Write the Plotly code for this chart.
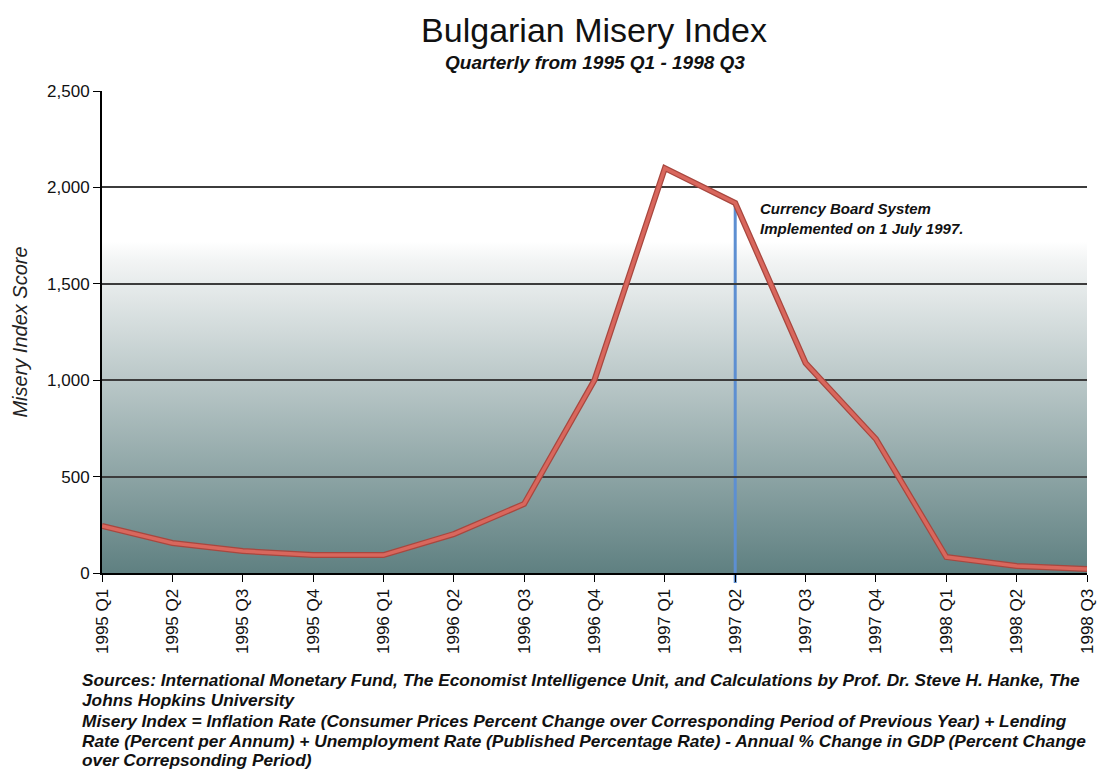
import base64
import plotly.graph_objects as go

quarters = ["1995 Q1", "1995 Q2", "1995 Q3", "1995 Q4", "1996 Q1", "1996 Q2", "1996 Q3",
            "1996 Q4", "1997 Q1", "1997 Q2", "1997 Q3", "1997 Q4", "1998 Q1", "1998 Q2", "1998 Q3"]
misery = [244, 156, 114, 93, 93, 202, 358, 1001, 2100, 1919, 1089, 695, 83, 36, 21]
event_quarter = "1997 Q2"
event_text = "Currency Board System<br>Implemented on 1 July 1997."
y_ticks = [0, 500, 1000, 1500, 2000, 2500]
footer_lines = [
    "Sources: International Monetary Fund, The Economist Intelligence Unit, and Calculations by Prof. Dr. Steve H. Hanke, The",
    "Johns Hopkins University",
    "Misery Index = Inflation Rate (Consumer Prices Percent Change over Corresponding Period of Previous Year) + Lending",
    "Rate (Percent per Annum) + Unemployment Rate (Published Percentage Rate) - Annual % Change in GDP (Percent Change",
    "over Correpsonding Period)",
]

FONT = "Liberation Sans, Arial, sans-serif"
YMAX = 2500

# plot area in pixels
L, R, T, B = 102, 1087, 91, 573
W, H = 1097, 770
PH = B - T

fig = go.Figure()

# smooth gradient background as an SVG image
split = (YMAX - 1720) / YMAX
svg = ('<svg xmlns="http://www.w3.org/2000/svg" width="100" height="100" preserveAspectRatio="none" viewBox="0 0 100 100">'
       '<defs><linearGradient id="g" x1="0" y1="0" x2="0" y2="1">'
       '<stop offset="0" stop-color="#ffffff"/>'
       '<stop offset="%.4f" stop-color="#ffffff"/>'
       '<stop offset="%.4f" stop-color="#f2f4f4"/>'
       '<stop offset="1" stop-color="#5f8081"/>'
       '</linearGradient></defs><rect x="0" y="0" width="100" height="100" fill="url(#g)"/></svg>') % (split, split + 0.04)
img_src = "data:image/svg+xml;base64," + base64.b64encode(svg.encode()).decode()

# event vertical line
ev_idx = quarters.index(event_quarter)
shapes = [dict(type="line", xref="x", yref="paper", x0=ev_idx, x1=ev_idx,
               y0=-10 / PH, y1=misery[ev_idx] / YMAX,
               line=dict(color="#5d8fd2", width=3), layer="below")]

xs = list(range(len(quarters)))
fig.add_trace(go.Scatter(x=xs, y=misery, mode="lines",
                         line=dict(color="#a8473f", width=6), hoverinfo="skip", showlegend=False))
fig.add_trace(go.Scatter(x=xs, y=misery, mode="lines",
                         line=dict(color="#d9675d", width=3.5), showlegend=False))

annotations = [
    dict(text="<b><i>Quarterly from 1995 Q1 - 1998 Q3</i></b>", xref="paper", yref="paper",
         x=0.5, y=(B - 63) / PH, xanchor="center", yanchor="middle", showarrow=False,
         font=dict(family=FONT, size=19, color="#111")),
    dict(text="<b><i>" + event_text + "</i></b>", xref="paper", yref="y",
         x=(758 - L) / (R - L), y=1838, xanchor="left", yanchor="middle", align="left",
         showarrow=False, font=dict(family=FONT, size=15, color="#111")),
]
footer_y = [680, 700, 720.5, 741, 760]
for txt, py in zip(footer_lines, footer_y):
    annotations.append(dict(text="<b><i>" + txt + "</i></b>", xref="paper", yref="paper",
                            x=(80 - L) / (R - L), y=(B - py) / PH, xanchor="left", yanchor="middle",
                            align="left", showarrow=False,
                            font=dict(family=FONT, size=17.3, color="#111")))

fig.update_layout(
    width=W, height=H,
    margin=dict(l=L, r=W - R, t=T, b=H - B, autoexpand=False),
    paper_bgcolor="white", plot_bgcolor="white",
    title=dict(text="Bulgarian Misery Index", x=(594 - L) / (R - L), xref="paper", xanchor="center",
               y=1 - 30 / H, yanchor="middle", font=dict(family=FONT, size=34, color="#111")),
    images=[dict(source=img_src, xref="paper", yref="paper", x=0, y=1, sizex=1, sizey=1,
                 sizing="stretch", xanchor="left", yanchor="top", layer="below")],
    shapes=shapes,
    annotations=annotations,
    showlegend=False,
    xaxis=dict(range=[0, len(quarters) - 1], tickmode="array", tickvals=xs, ticktext=quarters,
               tickangle=-90, ticks="outside", ticklen=7, tickcolor="black", automargin=False,
               showline=True, linecolor="black", linewidth=2, showgrid=False, zeroline=False,
               tickfont=dict(family=FONT, size=17, color="#111")),
    yaxis=dict(range=[0, YMAX], tickvals=y_ticks, tickformat=",", ticks="outside", ticklen=7,
               tickcolor="black", showline=True, linecolor="black", linewidth=2, automargin=False,
               showgrid=True, gridcolor="#3c3c3c", gridwidth=1.5, zeroline=False,
               tickfont=dict(family=FONT, size=17, color="#111"),
               title=dict(text="<i>Misery Index Score</i>", standoff=14,
                          font=dict(family=FONT, size=20, color="#222"))),
)

fig.write_html("out.html", config={"displayModeBar": False},
               post_script="document.body.style.margin='0';document.body.style.overflow='hidden';")
